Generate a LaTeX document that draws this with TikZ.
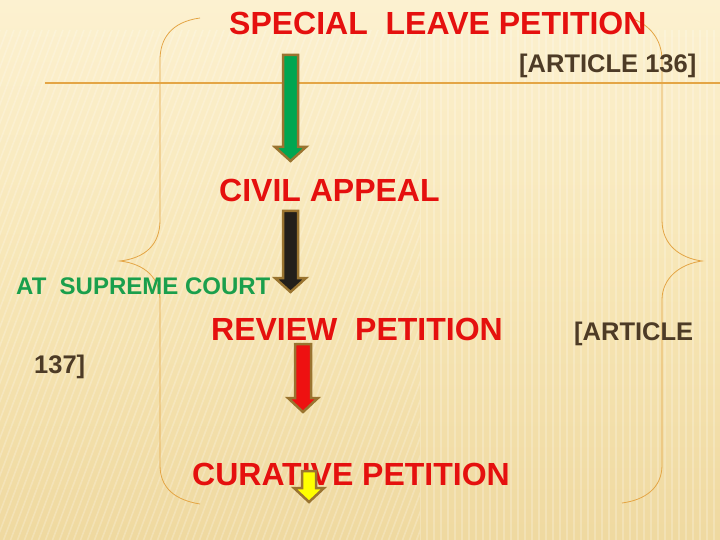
\documentclass[tikz,border=0pt]{standalone}
\usepackage{fontspec}
\setmainfont{Liberation Sans}
\definecolor{bgtop}{HTML}{FCF1D0}
\definecolor{bgmid}{HTML}{F7E6B6}
\definecolor{bgbot}{HTML}{EFD9A0}
\definecolor{txtred}{HTML}{E5100E}
\definecolor{txtgreen}{HTML}{1A9F4C}
\definecolor{txtbrown}{HTML}{4D3B26}
\definecolor{linorange}{HTML}{E4A545}
\definecolor{arrowedge}{HTML}{9A7430}
\definecolor{argreen}{HTML}{00A651}
\definecolor{arblack}{HTML}{231F1A}
\definecolor{arred}{HTML}{EE1111}
\definecolor{aryellow}{HTML}{FFFF00}
\tikzset{
  bigtext/.style={font=\fontsize{32}{32}\selectfont\bfseries, text=txtred, inner sep=0pt, anchor=base west},
  reftext/.style={font=\fontsize{25.5}{25.5}\selectfont\bfseries, text=txtbrown, inner sep=0pt, anchor=base west},
  greentext/.style={font=\fontsize{24}{24}\selectfont\bfseries, text=txtgreen, inner sep=0pt, anchor=base west},
  bracestyle/.style={draw=linorange, line width=0.8pt},
  blockarrow/.style={draw=arrowedge, line width=2.5pt, line join=miter},
  stripe/.style={white, opacity=0.22, line width=1.6pt}
}
\begin{document}
\begin{tikzpicture}[x=1pt,y=-1pt]
\useasboundingbox (0,0) rectangle (720,540);
\shade[top color=bgtop, bottom color=bgbot, middle color=bgmid] (0,0) rectangle (720,540);
% background stripes
\begin{scope}
  \clip (0,30) rectangle (420,540);
  \foreach \i in {0,7,...,700} {
    \draw[stripe] (\i-200,560) -- (\i,30);
  }
\end{scope}
\begin{scope}
  \clip (420,30) rectangle (720,540);
  \foreach \i in {420,427,...,720} {
    \draw[stripe] (\i,30) -- (\i,540);
  }
\end{scope}
% horizontal rule
\draw[linorange, line width=1.2pt] (45,83) -- (720,83);
% left brace
\draw[bracestyle] (200,18) .. controls (170,22) and (160,40) .. (160,60)
  -- (160,220) .. controls (160,245) and (145,258) .. (120,261)
  .. controls (145,264) and (160,278) .. (160,300)
  -- (160,465) .. controls (160,488) and (175,500) .. (200,504);
% right brace
\draw[bracestyle] (630,18) .. controls (650,24) and (662,40) .. (662,60)
  -- (662,220) .. controls (662,245) and (680,258) .. (702,261)
  .. controls (680,264) and (662,278) .. (662,300)
  -- (662,465) .. controls (662,488) and (645,500) .. (622,503);
% texts
\node[bigtext] (slp) at (229,35) {SPECIAL\ \ LEAVE PETITION};
\node[reftext] (a136) at (519,73) {[ARTICLE 136]};
\node[bigtext] (ca) at (219,202) {CIVIL APPEAL};
\node[greentext] (sc) at (16,294) {AT\ \ SUPREME COURT};
\node[bigtext] (rp) at (211,340) {REVIEW\ \ PETITION};
\node[reftext] (a137a) at (574,340) {[ARTICLE};
\node[reftext] (a137b) at (34,373) {137]};
\node[bigtext] (cp) at (192,485) {CURATIVE PETITION};
% block arrows
\draw[blockarrow, fill=argreen] (283,55) -- (298,55) -- (298,147) -- (306,147) -- (290.5,161) -- (275,147) -- (283,147) -- cycle;
\draw[blockarrow, fill=arblack] (283,211) -- (298,211) -- (298,278) -- (306,278) -- (290.5,292) -- (275,278) -- (283,278) -- cycle;
\draw[blockarrow, fill=arred] (295,344) -- (311,344) -- (311,398) -- (318,398) -- (303,412) -- (288,398) -- (295,398) -- cycle;
\draw[blockarrow, fill=aryellow] (302,471) -- (316,471) -- (316,488) -- (324,488) -- (309,502) -- (294,488) -- (302,488) -- cycle;
\end{tikzpicture}
\end{document}
